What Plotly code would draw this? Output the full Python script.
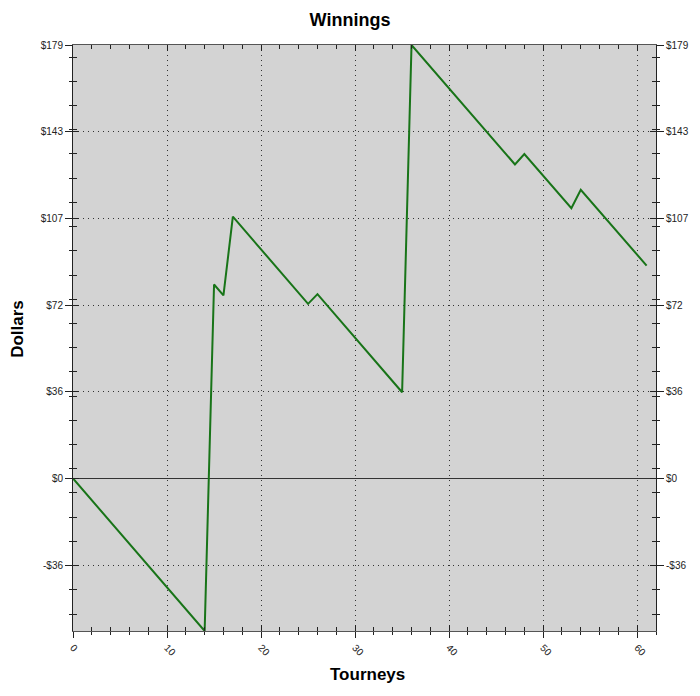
import plotly.graph_objects as go

# ---- data ----
tourneys = list(range(0, 62))
winnings = [
    0, -4.5, -9, -13.5, -18, -22.5, -27, -31.5, -36, -40.5,
    -45, -49.5, -54, -58.5, -63, 80.1, 75.6, 108.1, 103.6, 98.8,
    94.4, 90.0, 85.6, 81.1, 76.6, 72.1, 76.1, 71.6, 67.1, 62.6,
    58.1, 53.6, 49.1, 44.6, 40.1, 35.6, 179, 174.5, 170, 165.5,
    161, 156.5, 152, 147.5, 143, 138.5, 134, 129.7, 134, 129.5,
    125, 120.5, 116, 111.6, 119.2, 114.7, 110.2, 105.7, 101.2, 96.7,
    92.2, 87.9,
]
x_tickvals = [0, 10, 20, 30, 40, 50, 60]
x_ticktext = ["0", "10", "20", "30", "40", "50", "60"]
y_tickvals = [-35.8, 0, 35.8, 71.6, 107.4, 143.2, 179]
y_ticktext = ["-$36", "$0", "$36", "$72", "$107", "$143", "$179"]

X_RANGE = [0, 62]
Y_RANGE = [-63, 179]

FONT = "Liberation Sans, Arial, sans-serif"
GRID = "#333333"
AXIS = "#222222"
DASH = "1px,4px"

fig = go.Figure()
fig.add_trace(go.Scatter(x=tourneys, y=winnings, mode="lines",
                         line=dict(color="#187418", width=2),
                         hoverinfo="x+y", showlegend=False))
# invisible helper traces so overlay axes are drawn
fig.add_trace(go.Scatter(x=[X_RANGE[0]], y=[Y_RANGE[0]], xaxis="x2", yaxis="y3",
                         mode="markers", marker=dict(opacity=0), showlegend=False, hoverinfo="skip"))
fig.add_trace(go.Scatter(x=[X_RANGE[0]], y=[Y_RANGE[0]], xaxis="x", yaxis="y2",
                         mode="markers", marker=dict(opacity=0), showlegend=False, hoverinfo="skip"))

tickfont = dict(family=FONT, size=10, color="#222")

fig.update_layout(
    width=700, height=696,
    paper_bgcolor="white", plot_bgcolor="#d3d3d3",
    margin=dict(l=73, r=44, t=45, b=65),
    title=dict(text="<b>Winnings</b>", x=0.5, xref="container", xanchor="center",
               y=1 - 20 / 696, yref="container", yanchor="middle",
               font=dict(family=FONT, size=18, color="#000")),
    xaxis=dict(range=X_RANGE, tickmode="array", tickvals=x_tickvals, ticktext=x_ticktext,
               tickangle=45, tickfont=tickfont, ticks="outside", ticklen=6, tickcolor=AXIS,
               showgrid=True, gridcolor=GRID, griddash=DASH, gridwidth=1,
               zeroline=False, showline=True, linecolor="#555", linewidth=1, mirror=True,
               minor=dict(tick0=0, dtick=2, ticks="outside", ticklen=3, tickcolor=AXIS, showgrid=False)),
    xaxis2=dict(range=X_RANGE, overlaying="x", anchor="y", side="bottom",
                tickmode="array", tickvals=x_tickvals, showticklabels=False,
                ticks="inside", ticklen=6, tickcolor=AXIS, mirror="allticks",
                showgrid=False, zeroline=False, showline=False,
                minor=dict(tick0=0, dtick=2, ticks="inside", ticklen=4, tickcolor=AXIS, showgrid=False)),
    yaxis=dict(range=Y_RANGE, tickmode="array", tickvals=y_tickvals, ticktext=y_ticktext,
               tickfont=tickfont, ticks="outside", ticklen=7, tickcolor=AXIS,
               showgrid=True, gridcolor=GRID, griddash=DASH, gridwidth=1,
               zeroline=True, zerolinecolor="#333", zerolinewidth=1,
               showline=True, linecolor=AXIS, linewidth=1, mirror=True,
               minor=dict(tick0=4, dtick=10, ticks="outside", ticklen=3, tickcolor=AXIS, showgrid=False)),
    yaxis2=dict(range=Y_RANGE, overlaying="y", anchor="x", side="right",
                tickmode="array", tickvals=y_tickvals, ticktext=y_ticktext,
                tickfont=tickfont, ticks="outside", ticklen=7, tickcolor=AXIS,
                showgrid=False, zeroline=False, showline=False,
                minor=dict(tick0=4, dtick=10, ticks="outside", ticklen=3, tickcolor=AXIS, showgrid=False)),
    yaxis3=dict(range=Y_RANGE, overlaying="y", anchor="x", side="left",
                tickmode="array", tickvals=y_tickvals, showticklabels=False,
                ticks="inside", ticklen=6, tickcolor=AXIS, mirror="allticks",
                showgrid=False, zeroline=False, showline=False,
                minor=dict(tick0=4, dtick=10, ticks="inside", ticklen=4, tickcolor=AXIS, showgrid=False)),
    annotations=[
        dict(text="<b>Dollars</b>", xref="paper", yref="paper", x=-0.095, y=0.515,
             textangle=-90, showarrow=False, xanchor="center", yanchor="middle",
             font=dict(family=FONT, size=17, color="#000")),
        dict(text="<b>Tourneys</b>", xref="paper", yref="paper", x=0.506, y=-0.075,
             showarrow=False, xanchor="center", yanchor="middle",
             font=dict(family=FONT, size=17, color="#000")),
    ],
)

fig.write_html("out.html", config={"displayModeBar": False},
               post_script="document.body.style.margin='0';document.body.style.overflow='hidden';")
